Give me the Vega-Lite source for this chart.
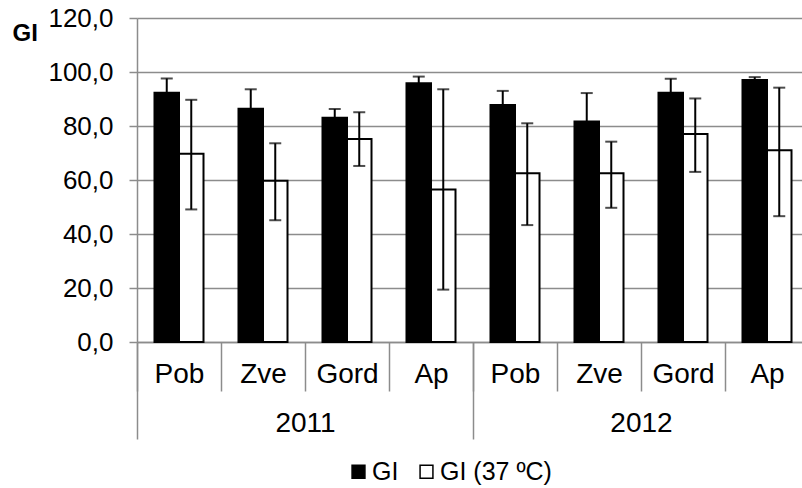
{
  "$schema": "https://vega.github.io/schema/vega-lite/v6.json",
  "width": 665,
  "height": 324,
  "autosize": {"type": "none"},
  "padding": {"left": 137, "top": 18, "right": 0, "bottom": 146},
  "background": "white",
  "data": {
    "values": [
      {"year": "2011", "cat": "Pob", "key": "2011 Pob", "series": "GI", "value": 92.3, "lo": 87.0, "hi": 97.6},
      {"year": "2011", "cat": "Pob", "key": "2011 Pob", "series": "GI (37 ºC)", "value": 69.7, "lo": 49.1, "hi": 89.7},
      {"year": "2011", "cat": "Zve", "key": "2011 Zve", "series": "GI", "value": 86.4, "lo": 79.2, "hi": 93.6},
      {"year": "2011", "cat": "Zve", "key": "2011 Zve", "series": "GI (37 ºC)", "value": 59.7, "lo": 45.1, "hi": 73.6},
      {"year": "2011", "cat": "Gord", "key": "2011 Gord", "series": "GI", "value": 83.1, "lo": 79.9, "hi": 86.3},
      {"year": "2011", "cat": "Gord", "key": "2011 Gord", "series": "GI (37 ºC)", "value": 75.2, "lo": 65.2, "hi": 85.1},
      {"year": "2011", "cat": "Ap", "key": "2011 Ap", "series": "GI", "value": 95.8, "lo": 93.3, "hi": 98.3},
      {"year": "2011", "cat": "Ap", "key": "2011 Ap", "series": "GI (37 ºC)", "value": 56.5, "lo": 19.4, "hi": 93.6},
      {"year": "2012", "cat": "Pob", "key": "2012 Pob", "series": "GI", "value": 87.8, "lo": 82.6, "hi": 93.0},
      {"year": "2012", "cat": "Pob", "key": "2012 Pob", "series": "GI (37 ºC)", "value": 62.5, "lo": 43.3, "hi": 81.0},
      {"year": "2012", "cat": "Zve", "key": "2012 Zve", "series": "GI", "value": 81.7, "lo": 71.2, "hi": 92.2},
      {"year": "2012", "cat": "Zve", "key": "2012 Zve", "series": "GI (37 ºC)", "value": 62.5, "lo": 49.7, "hi": 74.2},
      {"year": "2012", "cat": "Gord", "key": "2012 Gord", "series": "GI", "value": 92.3, "lo": 87.1, "hi": 97.5},
      {"year": "2012", "cat": "Gord", "key": "2012 Gord", "series": "GI (37 ºC)", "value": 77.0, "lo": 63.0, "hi": 90.2},
      {"year": "2012", "cat": "Ap", "key": "2012 Ap", "series": "GI", "value": 97.0, "lo": 95.9, "hi": 98.1},
      {"year": "2012", "cat": "Ap", "key": "2012 Ap", "series": "GI (37 ºC)", "value": 71.0, "lo": 46.6, "hi": 94.2}
    ]
  },
  "resolve": {"axis": {"x": "independent"}},
  "layer": [
    {
      "mark": {"type": "bar", "stroke": "black", "strokeWidth": 2},
      "encoding": {
        "x": {
          "field": "key", "type": "nominal", "sort": null,
          "scale": {"domain": ["2011 Pob","2011 Zve","2011 Gord","2011 Ap","2012 Pob","2012 Zve","2012 Gord","2012 Ap"], "range": [0, 672], "paddingInner": 0, "paddingOuter": 0},
          "axis": {
            "orient": "bottom", "title": null, "labelAngle": 0,
            "labelExpr": "isString(datum.value) ? split(datum.value, ' ')[1] : ''",
            "tickBand": "extent", "tickSize": 49, "tickColor": "#8c8c8c", "tickWidth": 1.5,
            "domain": true, "domainColor": "#8c8c8c", "domainWidth": 1.5,
            "labelFont": "Liberation Sans Narrow, Liberation Sans", "labelFontSize": 28, "labelColor": "#000000",
            "labelPadding": -31, "labelOverlap": false, "labelBound": false, "grid": false
          }
        },
        "xOffset": {"field": "series", "type": "nominal", "scale": {"domain": ["GI", "GI (37 ºC)"], "paddingInner": 0, "paddingOuter": 0.714}},
        "y": {
          "field": "value", "type": "quantitative", "title": "GI",
          "scale": {"domain": [0, 120]},
          "axis": {
            "values": [0, 20, 40, 60, 80, 100, 120],
            "labelExpr": "replace(format(datum.value, '.1f'), '.', ',')",
            "labelFont": "Liberation Sans Narrow, Liberation Sans", "labelFontSize": 26, "labelColor": "#000000",
            "labelPadding": 16, "tickSize": 8, "tickColor": "#8c8c8c", "tickWidth": 1.5,
            "domainColor": "#8c8c8c", "domainWidth": 1.5,
            "gridColor": "#8c8c8c", "gridWidth": 1.5,
            "titleAngle": 0, "titleAlign": "left", "titleBaseline": "alphabetic",
            "titleX": -125, "titleY": 22, "titleFont": "Liberation Sans", "titleFontSize": 24, "titleFontWeight": "bold", "titleColor": "#000000"
          }
        },
        "fill": {
          "field": "series", "type": "nominal",
          "scale": {"domain": ["GI", "GI (37 ºC)"], "range": ["#000000", "#ffffff"]},
          "legend": {
            "orient": "none", "legendX": 209, "legendY": 441, "direction": "horizontal", "title": null,
            "symbolType": "square", "symbolSize": 165, "symbolStrokeColor": "black", "symbolStrokeWidth": 1.5,
            "labelFont": "Liberation Sans", "labelFontSize": 25, "labelColor": "#000000", "labelOffset": 1, "columnPadding": 15
          }
        }
      }
    },
    {
      "mark": {"type": "rule", "color": "black", "strokeWidth": 2},
      "encoding": {
        "x": {
          "field": "key", "type": "nominal", "sort": null,
          "axis": {
            "orient": "bottom", "title": null, "labelAngle": 0,
            "labelExpr": "isString(datum.value) && indexof(datum.value, 'Zve') >= 0 ? slice(datum.value, 0, 4) : ''",
            "labelOffset": 42,
            "tickBand": "extent", "tickSize": 97, "tickColor": "#8c8c8c", "tickWidth": 1.5,
            "tickOpacity": {"condition": {"test": "!isString(datum.value) || indexof(datum.value, 'Ap') >= 0", "value": 1}, "value": 0},
            "domain": false, "grid": false,
            "labelFont": "Liberation Sans Narrow, Liberation Sans", "labelFontSize": 28, "labelColor": "#000000",
            "labelPadding": -30, "labelOverlap": false, "labelBound": false
          }
        },
        "xOffset": {"field": "series", "type": "nominal"},
        "y": {"field": "lo", "type": "quantitative"},
        "y2": {"field": "hi"}
      }
    },
    {
      "mark": {"type": "tick", "color": "black", "thickness": 2, "size": 12},
      "encoding": {
        "x": {"field": "key", "type": "nominal", "sort": null, "axis": null},
        "xOffset": {"field": "series", "type": "nominal"},
        "y": {"field": "hi", "type": "quantitative"}
      }
    },
    {
      "mark": {"type": "tick", "color": "black", "thickness": 2, "size": 12},
      "encoding": {
        "x": {"field": "key", "type": "nominal", "sort": null, "axis": null},
        "xOffset": {"field": "series", "type": "nominal"},
        "y": {"field": "lo", "type": "quantitative"}
      }
    }
  ],
  "config": {
    "view": {"stroke": null}
  }
}
